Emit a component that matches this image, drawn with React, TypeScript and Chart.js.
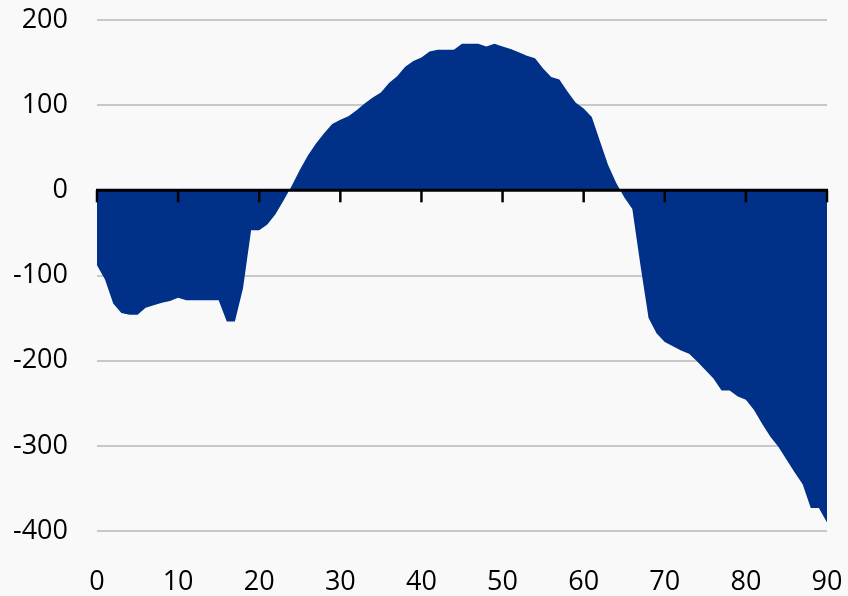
import React, { useEffect, useRef } from "react";
import { Chart, registerables } from "chart.js";

Chart.register(...registerables);

const xValues: number[] = [
  0, 1, 2, 3, 4, 5, 6, 7, 8, 9,
  10, 11, 12, 13, 14, 15, 16, 17, 18, 19,
  20, 21, 22, 23, 24, 25, 26, 27, 28, 29,
  30, 31, 32, 33, 34, 35, 36, 37, 38, 39,
  40, 41, 42, 43, 44, 45, 46, 47, 48, 49,
  50, 51, 52, 53, 54, 55, 56, 57, 58, 59,
  60, 61, 62, 63, 64, 65, 66, 67, 68, 69,
  70, 71, 72, 73, 74, 75, 76, 77, 78, 79,
  80, 81, 82, 83, 84, 85, 86, 87, 88, 89,
  90,
];

const seriesValues: number[] = [
  -88, -105, -133, -144, -146, -146, -138, -135, -132, -130,
  -126, -129, -129, -129, -129, -129, -154, -154, -115, -47,
  -47, -40, -28, -12, 5, 24, 41, 55, 67, 78,
  83, 87, 94, 102, 109, 115, 126, 134, 145, 152,
  156, 163, 165, 165, 165, 172, 172, 172, 169, 172,
  169, 166, 162, 158, 155, 143, 133, 130, 116, 103,
  96, 86, 58, 30, 9, -8, -22, -88, -150, -168,
  -178, -183, -188, -192, -201, -211, -221, -235, -235, -242,
  -246, -258, -274, -289, -301, -316, -331, -345, -373, -373,
  -390,
];

const xTickValues: number[] = [0, 10, 20, 30, 40, 50, 60, 70, 80, 90];
const yTickValues: number[] = [200, 100, 0, -100, -200, -300, -400];

const FILL = "#003087";
const BG = "#f9f9f9";
const FONT = "'Open Sans', 'Noto Sans', sans-serif";

const bgPlugin = {
  id: "bgFill",
  beforeDraw(chart: any) {
    const { ctx, width, height } = chart;
    ctx.save();
    ctx.fillStyle = BG;
    ctx.fillRect(0, 0, width, height);
    ctx.restore();
  },
};

const zeroAxisPlugin = {
  id: "zeroAxis",
  afterDatasetsDraw(chart: any) {
    const { ctx, scales } = chart;
    const xs = scales.x;
    const ys = scales.y;
    const y0 = ys.getPixelForValue(0);
    ctx.save();
    ctx.strokeStyle = "#000";
    ctx.lineWidth = 3;
    ctx.beginPath();
    ctx.moveTo(xs.getPixelForValue(0) - 1, y0);
    ctx.lineTo(xs.getPixelForValue(90) + 1, y0);
    ctx.stroke();
    ctx.lineWidth = 2.5;
    xTickValues.forEach((v) => {
      const px = xs.getPixelForValue(v);
      ctx.beginPath();
      ctx.moveTo(px, y0);
      ctx.lineTo(px, y0 + 12);
      ctx.stroke();
    });
    ctx.restore();
  },
};

const zeroPad = (scale: any) => {
  scale.paddingTop = 0;
  scale.paddingBottom = 0;
  scale.paddingLeft = 0;
  scale.paddingRight = 0;
};

export default function App() {
  const canvasRef = useRef<HTMLCanvasElement | null>(null);

  useEffect(() => {
    document.body.style.margin = "0";
    document.body.style.background = BG;
    const canvas = canvasRef.current;
    if (!canvas) return;
    const data = xValues.map((x, i) => ({ x, y: seriesValues[i] }));
    const chart = new Chart(canvas, {
      type: "line",
      data: {
        datasets: [
          {
            data,
            fill: "origin",
            backgroundColor: FILL,
            borderColor: FILL,
            borderWidth: 0,
            pointRadius: 0,
            tension: 0,
          },
        ],
      },
      options: {
        animation: false,
        responsive: false,
        devicePixelRatio: 1,
        layout: { padding: { top: 20, right: 21, bottom: 0, left: 0 } },
        plugins: {
          legend: { display: false },
          tooltip: { enabled: false },
          title: { display: false },
        },
        scales: {
          x: {
            type: "linear",
            min: 0,
            max: 90,
            afterBuildTicks: (scale: any) => {
              scale.ticks = xTickValues.map((v) => ({ value: v }));
            },
            afterFit: (scale: any) => {
              scale.height = 65;
              zeroPad(scale);
            },
            ticks: {
              padding: 35,
              color: "#000",
              font: { family: FONT, size: 27 },
              maxRotation: 0,
              autoSkip: false,
            },
            grid: { display: false, drawTicks: false },
            border: { display: false },
          },
          y: {
            type: "linear",
            min: -400,
            max: 200,
            afterBuildTicks: (scale: any) => {
              scale.ticks = yTickValues.map((v) => ({ value: v }));
            },
            afterFit: (scale: any) => {
              scale.width = 97;
              zeroPad(scale);
            },
            ticks: {
              padding: 29,
              color: "#000",
              font: { family: FONT, size: 27 },
              autoSkip: false,
            },
            grid: {
              drawTicks: false,
              lineWidth: 2,
              color: (c: any) => (c.tick && c.tick.value === 0 ? "rgba(0,0,0,0)" : "#c8c8c8"),
            },
            border: { display: false },
          },
        },
      },
      plugins: [bgPlugin, zeroAxisPlugin],
    });
    return () => chart.destroy();
  }, []);

  return (
    <canvas
      ref={canvasRef}
      width={848}
      height={596}
      style={{ display: "block", width: "848px", height: "596px" }}
    />
  );
}
